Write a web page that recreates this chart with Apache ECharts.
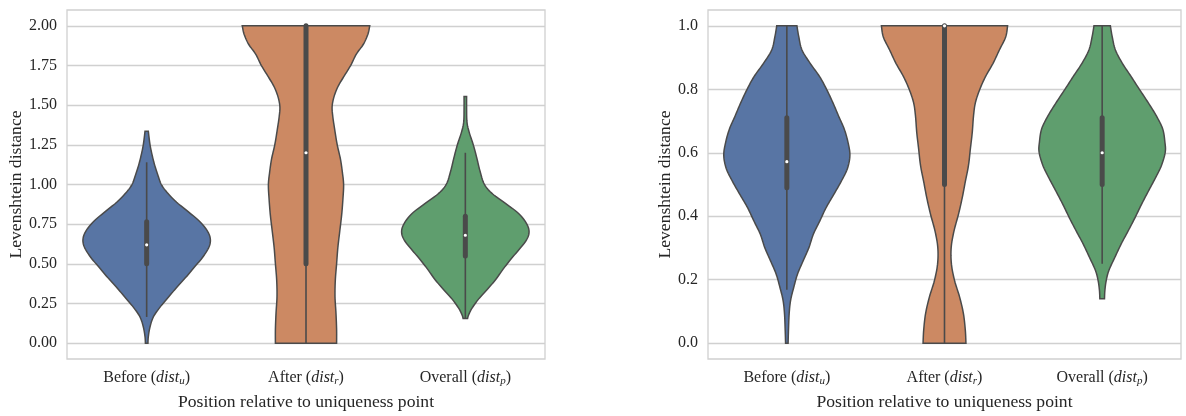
<!DOCTYPE html>
<html>
<head>
<meta charset="utf-8">
<title>Levenshtein distance violins</title>
<script src="https://cdn.jsdelivr.net/npm/echarts@6.0.0/dist/echarts.min.js"></script>
<style>
  html, body { margin: 0; padding: 0; background: #fff; }
  #chart { width: 1186px; height: 416px; }
</style>
</head>
<body>
<div id="chart"></div>
<script>
const categories = ['Before', 'After', 'Overall'];
const subscripts = ['u', 'r', 'p'];
const palette = ['#5875a4', '#cc8963', '#5f9e6e'];

// violin outlines, [value, relative half width] (1 = widest point)
const leftBefore = [[0, 0.02], [0.041, 0.026], [0.103, 0.053], [0.165, 0.105], [0.227, 0.21], [0.289, 0.34],
  [0.351, 0.47], [0.413, 0.61], [0.475, 0.74], [0.537, 0.87], [0.599, 0.97], [0.65, 1.0], [0.702, 0.96],
  [0.764, 0.84], [0.826, 0.66], [0.888, 0.47], [0.95, 0.32], [1.0, 0.23], [1.054, 0.18], [1.116, 0.13],
  [1.178, 0.09], [1.25, 0.053], [1.335, 0.026]];
const leftAfter = [[0, 0.48], [0.087, 0.48], [0.19, 0.47], [0.293, 0.455], [0.397, 0.46], [0.5, 0.48],
  [0.603, 0.5], [0.707, 0.53], [0.81, 0.56], [0.913, 0.58], [1.0, 0.59], [1.079, 0.57], [1.161, 0.54],
  [1.25, 0.49], [1.347, 0.45], [1.43, 0.42], [1.492, 0.41], [1.554, 0.44], [1.616, 0.5], [1.678, 0.59],
  [1.75, 0.7], [1.822, 0.79], [1.884, 0.9], [1.946, 0.97], [2.0, 1.0]];
const leftOverall = [[0.155, 0.035], [0.176, 0.05], [0.217, 0.1], [0.279, 0.21], [0.341, 0.35], [0.403, 0.48],
  [0.465, 0.59], [0.527, 0.71], [0.589, 0.84], [0.651, 0.96], [0.702, 1.0], [0.754, 0.96], [0.816, 0.84],
  [0.878, 0.64], [0.94, 0.43], [1.0, 0.3], [1.085, 0.23], [1.167, 0.18], [1.25, 0.125], [1.33, 0.06],
  [1.393, 0.026], [1.475, 0.02], [1.555, 0.02]];

const rightBefore = [[0, 0.02], [0.041, 0.026], [0.093, 0.037], [0.135, 0.06], [0.176, 0.11], [0.218, 0.17],
  [0.26, 0.26], [0.301, 0.35], [0.343, 0.42], [0.384, 0.52], [0.426, 0.62], [0.467, 0.74], [0.509, 0.86],
  [0.55, 0.96], [0.592, 1.0], [0.633, 0.97], [0.675, 0.91], [0.716, 0.82], [0.758, 0.73], [0.8, 0.63],
  [0.84, 0.52], [0.882, 0.37], [0.924, 0.24], [0.965, 0.19], [1.0, 0.16]];
const rightAfter = [[0, 0.34], [0.041, 0.33], [0.093, 0.3], [0.145, 0.24], [0.197, 0.16], [0.249, 0.11],
  [0.301, 0.106], [0.353, 0.15], [0.405, 0.22], [0.457, 0.28], [0.509, 0.33], [0.56, 0.38], [0.612, 0.41],
  [0.664, 0.44], [0.716, 0.46], [0.758, 0.49], [0.8, 0.56], [0.84, 0.65], [0.882, 0.77], [0.924, 0.87],
  [0.965, 0.97], [1.0, 1.0]];
const rightOverall = [[0.14, 0.037], [0.166, 0.043], [0.197, 0.064], [0.229, 0.106], [0.27, 0.2], [0.312, 0.3],
  [0.353, 0.41], [0.395, 0.52], [0.436, 0.62], [0.478, 0.73], [0.519, 0.84], [0.56, 0.94], [0.602, 1.0],
  [0.633, 0.995], [0.675, 0.96], [0.716, 0.86], [0.758, 0.73], [0.8, 0.59], [0.84, 0.46], [0.882, 0.32],
  [0.924, 0.21], [0.965, 0.16], [1.0, 0.13]];

// inner box: [whisker low, q1, median, q3, whisker high]
const leftBoxes = [[0.165, 0.5, 0.62, 0.765, 1.14], [0, 0.5, 1.2, 2.0, 2.0], [0.155, 0.55, 0.68, 0.8, 1.2]];
const rightBoxes = [[0.168, 0.49, 0.572, 0.71, 1.0], [0, 0.5, 1.0, 1.0, 1.0], [0.25, 0.5, 0.6, 0.71, 1.0]];

const leftTicks = [0, 0.25, 0.5, 0.75, 1, 1.25, 1.5, 1.75, 2];
const rightTicks = [0, 0.2, 0.4, 0.6, 0.8, 1.0];

const FONT = 'Liberation Serif';
const TEXT = '#262626';
const EDGE = '#4a4a4a';
const GRIDC = '#d0d0d0';

// catmull-rom, only to draw a smooth outline through the read points
function smoothPts(pts) {
    const out = [];
    const n = pts.length;
    for (let i = 0; i < n - 1; i++) {
        const p0 = pts[Math.max(i - 1, 0)], p1 = pts[i], p2 = pts[i + 1], p3 = pts[Math.min(i + 2, n - 1)];
        for (let k = 0; k < 8; k++) {
            const t = k / 8, t2 = t * t, t3 = t2 * t;
            const f = function (a, b, c, d) {
                return 0.5 * (2 * b + (-a + c) * t + (2 * a - 5 * b + 4 * c - d) * t2 + (-a + 3 * b - 3 * c + d) * t3);
            };
            out.push([f(p0[0], p1[0], p2[0], p3[0]), f(p0[1], p1[1], p2[1], p3[1])]);
        }
    }
    out.push(pts[n - 1]);
    return out;
}

function violinRender(profiles, boxes) {
    return function (params, api) {
        const idx = api.value(0);
        const half = api.size([1, 0])[0] * 0.4;
        const cx = api.coord([idx, 0])[0];
        const y = function (v) { return api.coord([idx, v])[1]; };
        const right = smoothPts(profiles[idx].map(function (p) { return [cx + p[1] * half, y(p[0])]; }));
        const left = right.map(function (p) { return [2 * cx - p[0], p[1]]; }).reverse();
        const b = boxes[idx];
        return {
            type: 'group',
            children: [
                { type: 'polygon', shape: { points: right.concat(left) },
                  style: { fill: palette[idx], stroke: EDGE, lineWidth: 1.5 } },
                { type: 'line', shape: { x1: cx, y1: y(b[0]), x2: cx, y2: y(b[4]) },
                  style: { stroke: EDGE, lineWidth: 1.6 } },
                { type: 'line', shape: { x1: cx, y1: y(b[1]), x2: cx, y2: y(b[3]) },
                  style: { stroke: EDGE, lineWidth: 5, lineCap: 'round' } },
                { type: 'circle', shape: { cx: cx, cy: y(b[2]), r: 1.6 }, style: { fill: '#fff' } }
            ]
        };
    };
}

function xAxisOpt(gridIndex) {
    return {
        type: 'category', gridIndex: gridIndex, data: categories,
        axisLine: { show: false }, axisTick: { show: false }, splitLine: { show: false },
        axisLabel: {
            interval: 0, margin: 10,
            formatter: function (v, i) { return '{n|' + v + ' (}{i|dist}{s|' + subscripts[i] + '}{n|)}'; },
            rich: {
                n: { fontFamily: FONT, fontSize: 16, color: TEXT },
                i: { fontFamily: FONT, fontSize: 16, fontStyle: 'italic', color: TEXT },
                s: { fontFamily: FONT, fontSize: 11, fontStyle: 'italic', color: TEXT, padding: [7, 0, 0, 0] }
            }
        },
        name: 'Position relative to uniqueness point', nameLocation: 'middle', nameGap: 34,
        nameTextStyle: { fontFamily: FONT, fontSize: 17.6, color: TEXT }
    };
}

function yAxisOpt(gridIndex, min, max, ticks, digits, gap) {
    return {
        type: 'value', gridIndex: gridIndex, min: min, max: max,
        axisLine: { show: false },
        axisTick: { show: false, customValues: ticks },
        axisLabel: {
            customValues: ticks, margin: 10, fontFamily: FONT, fontSize: 16, color: TEXT,
            formatter: function (v) { return v.toFixed(digits); }
        },
        splitLine: { lineStyle: { color: GRIDC, width: 1.3 } },
        name: 'Levenshtein distance', nameLocation: 'middle', nameGap: gap,
        nameTextStyle: { fontFamily: FONT, fontSize: 17.6, color: TEXT }
    };
}

const chart = echarts.init(document.getElementById('chart'));
chart.setOption({
    animation: false,
    backgroundColor: '#fff',
    grid: [
        { left: 67, top: 10, width: 478, height: 354, show: true, borderColor: GRIDC, borderWidth: 1.3 },
        { left: 708, top: 10, width: 473, height: 354, show: true, borderColor: GRIDC, borderWidth: 1.3 }
    ],
    xAxis: [xAxisOpt(0), xAxisOpt(1)],
    yAxis: [yAxisOpt(0, -0.1, 2.1, leftTicks, 2, 40), yAxisOpt(1, -0.05, 1.05, rightTicks, 1, 34)],
    series: [
        { type: 'custom', xAxisIndex: 0, yAxisIndex: 0, renderItem: violinRender([leftBefore, leftAfter, leftOverall], leftBoxes),
          data: leftBoxes.map(function (b, i) { return [i, b[2]]; }), encode: { x: 0, y: 1 } },
        { type: 'custom', xAxisIndex: 1, yAxisIndex: 1, renderItem: violinRender([rightBefore, rightAfter, rightOverall], rightBoxes),
          data: rightBoxes.map(function (b, i) { return [i, b[2]]; }), encode: { x: 0, y: 1 } }
    ]
});
</script>
</body>
</html>
